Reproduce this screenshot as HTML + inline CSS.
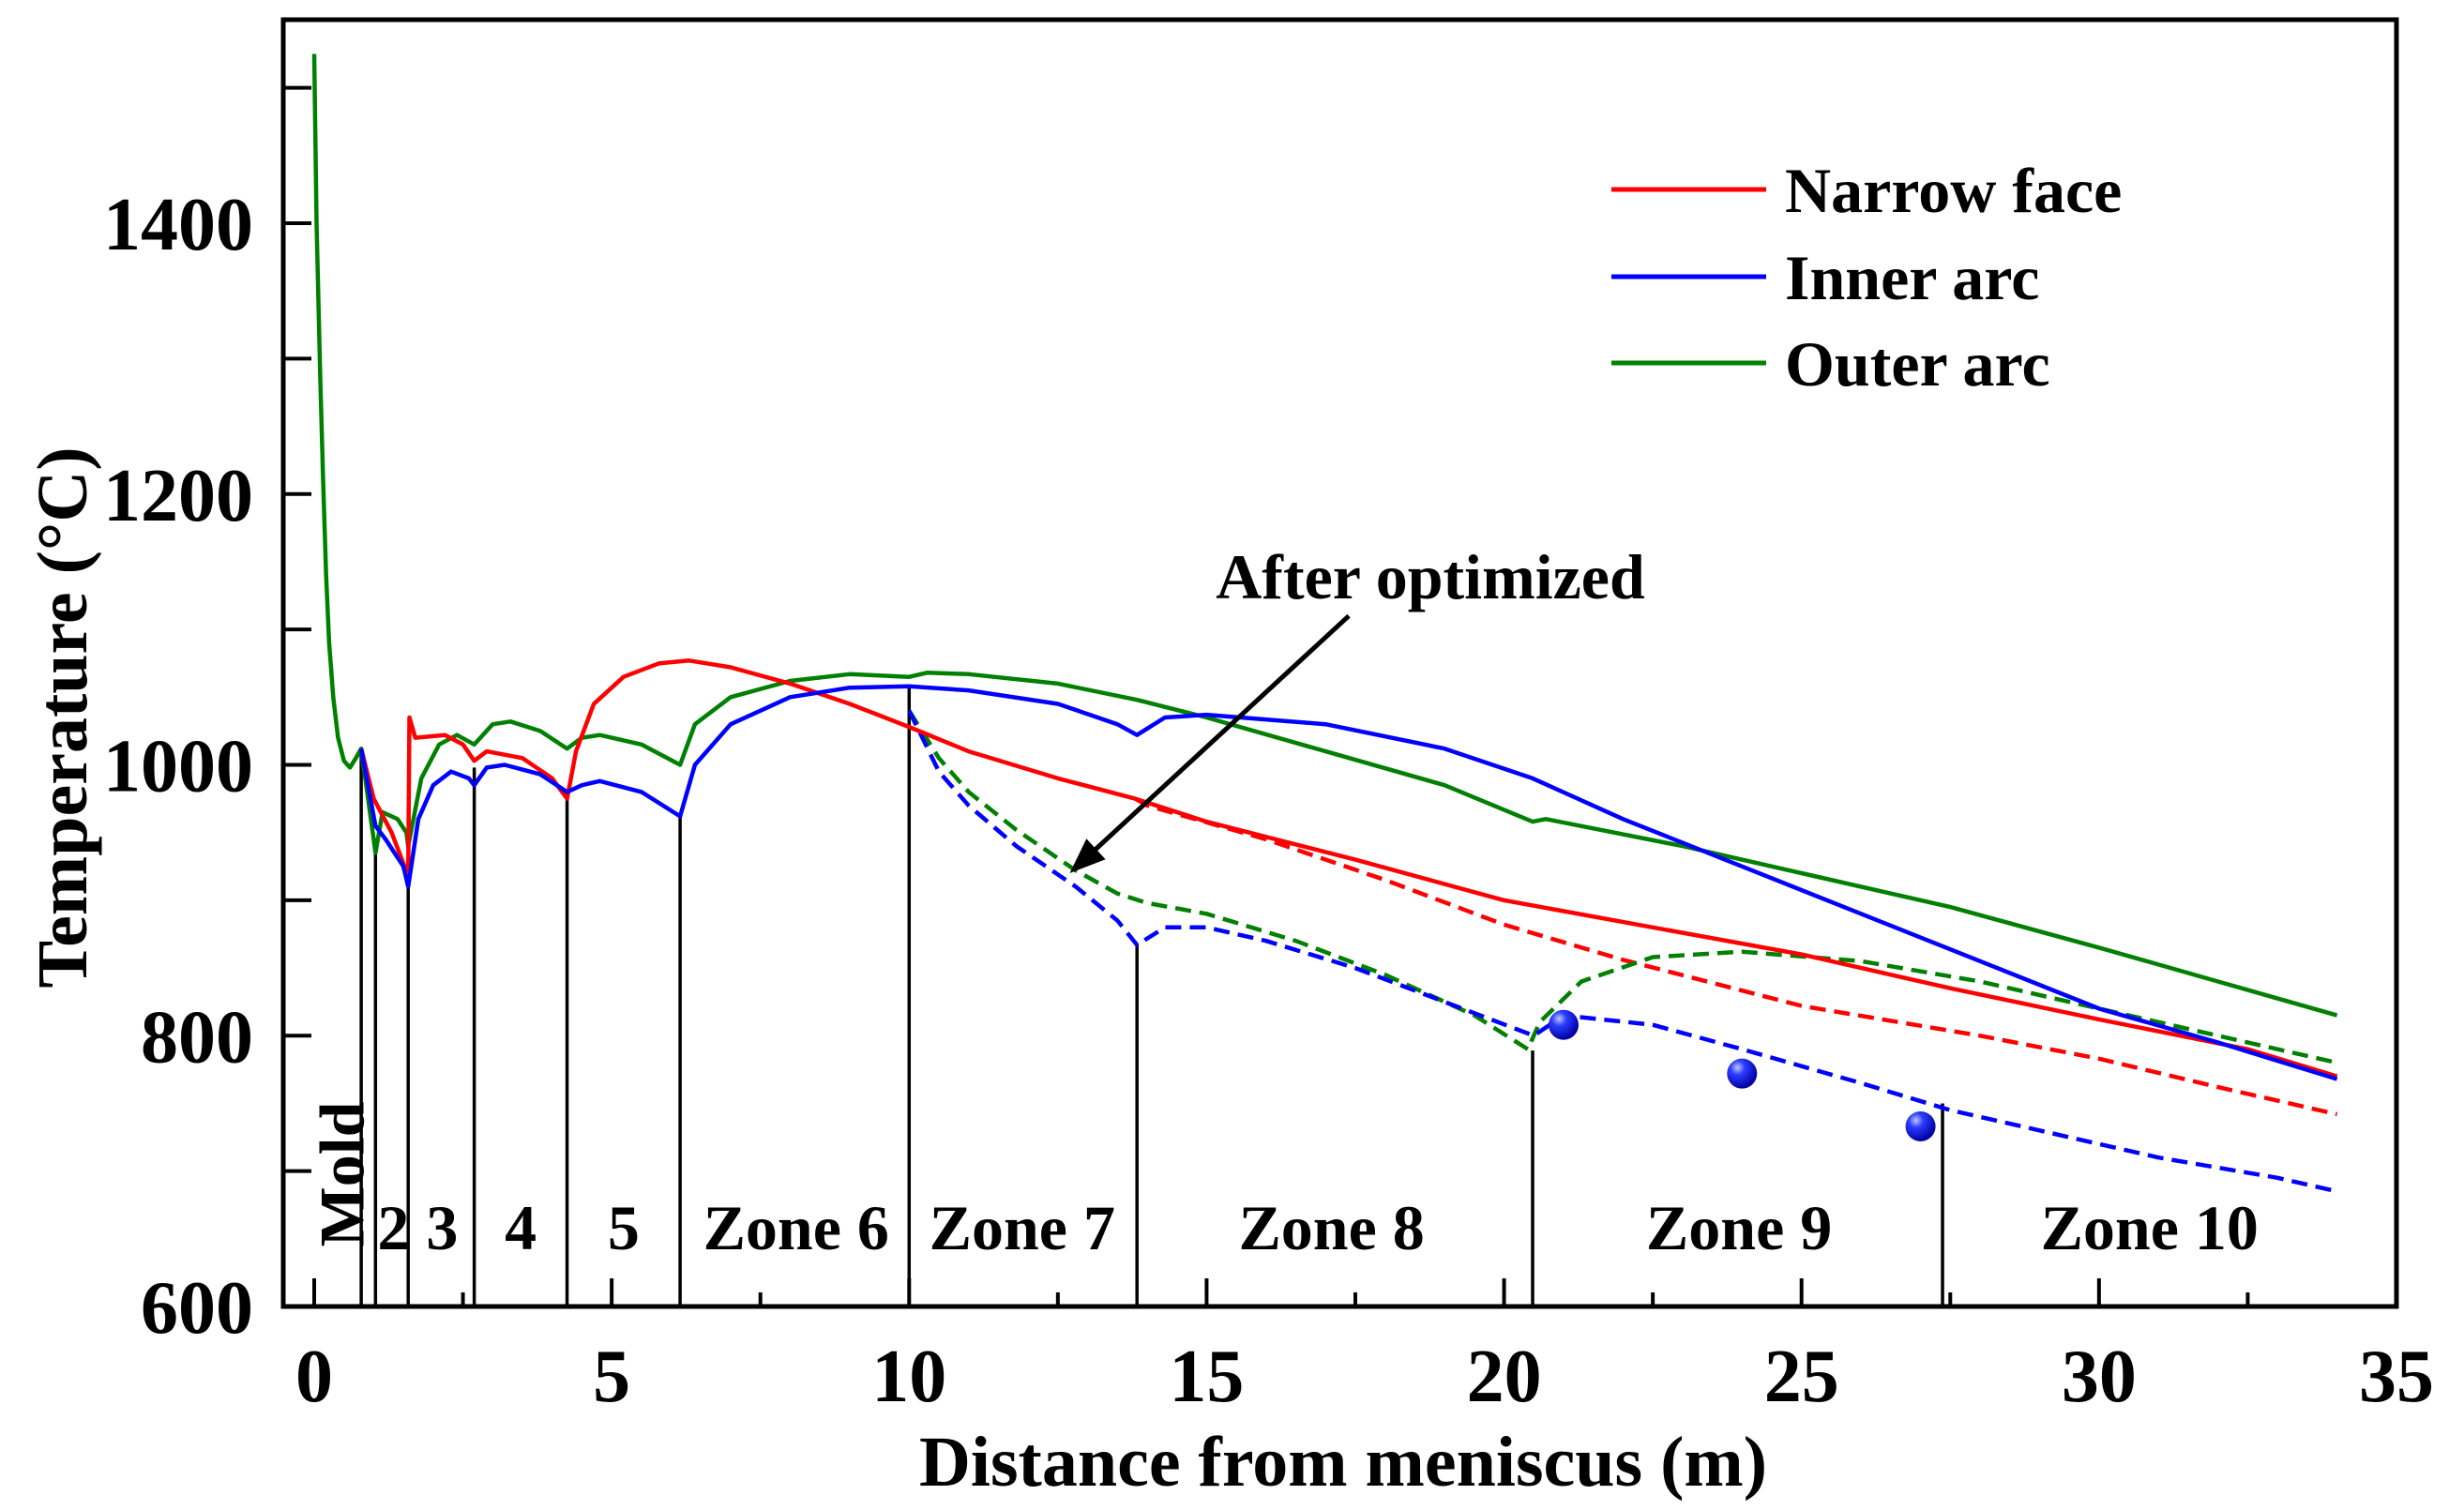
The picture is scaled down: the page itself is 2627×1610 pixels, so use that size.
<!DOCTYPE html>
<html><head><meta charset="utf-8"><style>
html,body{margin:0;padding:0;background:#fff}
svg{display:block;font-family:"Liberation Serif",serif;font-weight:bold}
</style></head><body>
<svg id="chart" width="2627" height="1610" viewBox="0 0 2627 1610" xmlns="http://www.w3.org/2000/svg">
<g id="plot"></g>
</svg>
<script>
const xTicks=[0,5,10,15,20,25,30,35];
const yTicks=[600,800,1000,1200,1400];
const narrowX=[0.79,1.0,1.3,1.58,1.6,1.7,2.2,2.5,2.69,2.9,3.5,4.0,4.25,4.4,4.7,5.2,5.8,6.3,7,8,9,10,11,12.5,13.8,15,17.5,20,22.5,25,27.5,30,32.5,34];
const narrowY=[1012,975,950,918,1035,1020,1022,1015,1003,1010,1005,990,975,1010,1045,1065,1075,1077,1072,1060,1045,1028,1010,990,975,958,930,900,880,860,835,812,790,770];
const innerX=[0.79,1.03,1.2,1.5,1.58,1.75,2.0,2.3,2.6,2.69,2.9,3.2,3.8,4.25,4.5,4.8,5.5,6.15,6.4,7,8,9,10,11,12.5,13.5,13.83,14.3,15,17,19,20.48,22,24,26,28,30,32,34];
const innerY=[1012,955,945,925,910,960,985,995,990,985,998,1000,993,980,985,988,980,962,1000,1030,1050,1057,1058,1055,1045,1030,1022,1035,1037,1030,1012,990,960,925,890,855,820,795,768];
const outerX=[0,0.04,0.1,0.15,0.2,0.25,0.32,0.4,0.5,0.6,0.7,0.79,1.0,1.03,1.15,1.4,1.55,1.58,1.8,2.1,2.4,2.69,3.0,3.3,3.8,4.25,4.5,4.8,5.5,6.15,6.4,7,8,9,10,10.3,11,12.5,13.83,15,17,19,20.48,20.7,23,25,27.5,30,32,34];
const outerY=[1525,1400,1290,1210,1140,1090,1050,1020,1003,998,1005,1012,945,935,965,960,950,940,990,1015,1022,1015,1030,1032,1025,1012,1020,1022,1015,1000,1030,1050,1062,1067,1065,1068,1067,1060,1048,1035,1010,985,958,960,940,920,895,865,840,815];
const narrowOptX=[13.8,14,16,18,20,22,25,28,30,32,34];
const narrowOptY=[975,970,945,915,882,856,822,800,783,762,742];
const outerOptX=[10,10.5,11,11.8,12.8,13.5,14,15,16.5,18,19.5,20.4,20.6,21.3,22.5,24,26,28,30,32,34];
const outerOptY=[1040,1005,980,952,922,905,898,890,870,845,815,790,810,840,858,862,855,840,820,800,780];
const innerOptX=[10,10.5,11,11.8,12.8,13.5,13.83,14.3,15,16,17.5,19,20.5,21,22.5,24,26,27.5,29,31,33,34];
const innerOptY=[1040,995,970,940,910,885,867,880,880,870,850,825,800,815,808,790,765,745,730,710,695,685];
const measX=[21,24,27];
const measY=[808,772,733];
const zoneX=[0.79,1.03,1.58,2.69,4.25,6.15,10.0,13.83,20.48,27.37];
const zoneTop=[1012,945,912,998,975,962,1057,868,789,750];
const zoneNames=["Mold","2","3","4","5","Zone 6","Zone 7","Zone 8","Zone 9","Zone 10"];
const zoneLabelX=[0.45,1.33,2.15,3.47,5.2,8.1,11.9,17.1,23.95,30.85];

const X0=335,X1=2555,Y0=1393,Y1=238;
const sx=v=>X0+(v-0)*(X1-X0)/35;
const sy=v=>Y0-(v-600)*(Y0-Y1)/800;
const NS="http://www.w3.org/2000/svg";
const g=document.getElementById('plot');
function mk(t,a,txt){const e=document.createElementNS(NS,t);for(const k in a)e.setAttribute(k,a[k]);if(txt!==undefined)e.textContent=txt;g.appendChild(e);return e;}

let fr=mk('rect',{x:302,y:21,width:X1-302,height:Y0-21,fill:'none',stroke:'#000','stroke-width':5});


for(let v=600;v<=1500;v+=100){
  const t=mk('line',{x1:302,x2:332,y1:sy(v),y2:sy(v),stroke:'#000','stroke-width':4});
  
  
}
yTicks.forEach(v=>{
  const t=mk('text',{x:270,y:sy(v)+28,'text-anchor':'end','font-size':80},String(v));
  
  
});
for(let v=0;v<=35;v+=2.5){
  const t=mk('line',{x1:sx(v),x2:sx(v),y1:Y0,y2:Y0-(v%5===0?30:15),stroke:'#000','stroke-width':4});
  
  
}
xTicks.forEach(v=>{
  const t=mk('text',{x:sx(v),y:1494,'text-anchor':'middle','font-size':80},String(v));
  
  
});
let xt=mk('text',{x:1432,y:1584,'text-anchor':'middle','font-size':76},'Distance from meniscus (m)');


let yt=mk('text',{x:0,y:0,'text-anchor':'middle','font-size':76,transform:'translate(92,765) rotate(-90)'},'Temperature (°C)');



zoneX.forEach((v,i)=>{
  const l=mk('line',{x1:sx(v),x2:sx(v),y1:Y0,y2:sy(zoneTop[i]),stroke:'#000','stroke-width':3.5});
  
  
});
zoneNames.forEach((n,i)=>{
  let t;
  if(i===0){t=mk('text',{x:0,y:0,'text-anchor':'middle','font-size':68,transform:`translate(${sx(zoneLabelX[i])+24},${1252}) rotate(-90)`},n);}
  else t=mk('text',{x:sx(zoneLabelX[i]),y:1332,'text-anchor':'middle','font-size':68},n);
  
  
});

function series(xs,ys,color,dash,name){
  const pts=xs.map((x,i)=>sx(x).toFixed(1)+','+sy(ys[i]).toFixed(1)).join(' ');
  const a={points:pts,fill:'none',stroke:color,'stroke-width':4.5,'stroke-linejoin':'round'};
  if(dash)a['stroke-dasharray']='17 9';
  const p=mk('polyline',a);
  
  
}
series(narrowOptX,narrowOptY,'#ff0000',true,'narrow-face-optimized-line');
series(outerOptX,outerOptY,'#008000',true,'outer-arc-optimized-line');
series(innerOptX,innerOptY,'#0000ff',true,'inner-arc-optimized-line');
series(outerX,outerY,'#008000',false,'outer-arc-line');
series(narrowX,narrowY,'#ff0000',false,'narrow-face-line');
series(innerX,innerY,'#0000ff',false,'inner-arc-line');

const defs=document.createElementNS(NS,'defs');
defs.innerHTML='<radialGradient id="ball" cx="0.35" cy="0.3" r="0.7"><stop offset="0" stop-color="#bfc8ff"/><stop offset="0.35" stop-color="#2b3cff"/><stop offset="1" stop-color="#0000a0"/></radialGradient>';
document.getElementById('chart').appendChild(defs);
measX.forEach((v,i)=>{
  const c=mk('circle',{cx:sx(v),cy:sy(measY[i]),r:16,fill:'url(#ball)'});
  
  
});

const ax1=sx(17.39),ay1=sy(1110),ax2=sx(12.7),ay2=sy(920);
let ar=mk('line',{x1:ax1,y1:ay1,x2:ax2+14,y2:ay2-13,stroke:'#000','stroke-width':5});


const ang=Math.atan2(ay2-ay1,ax2-ax1);
const hl=38,hw=15;
const bx=ax2-hl*Math.cos(ang),by=ay2-hl*Math.sin(ang);
let ah=mk('polygon',{points:`${ax2},${ay2} ${bx+hw*Math.sin(ang)},${by-hw*Math.cos(ang)} ${bx-hw*Math.sin(ang)},${by+hw*Math.cos(ang)}`,fill:'#000'});


let an=mk('text',{x:1525,y:638,'text-anchor':'middle','font-size':68},'After optimized');



const legNames=['Narrow face','Inner arc','Outer arc'];
const legColors=['#ff0000','#0000ff','#008000'];
const legY=[202,295,387];
legNames.forEach((n,i)=>{
  const l=mk('line',{x1:1718,x2:1883,y1:legY[i],y2:legY[i],stroke:legColors[i],'stroke-width':5});
  
  
  const t=mk('text',{x:1903,y:legY[i]+24,'font-size':68},n);
  
  
});
</script>
</body></html>
